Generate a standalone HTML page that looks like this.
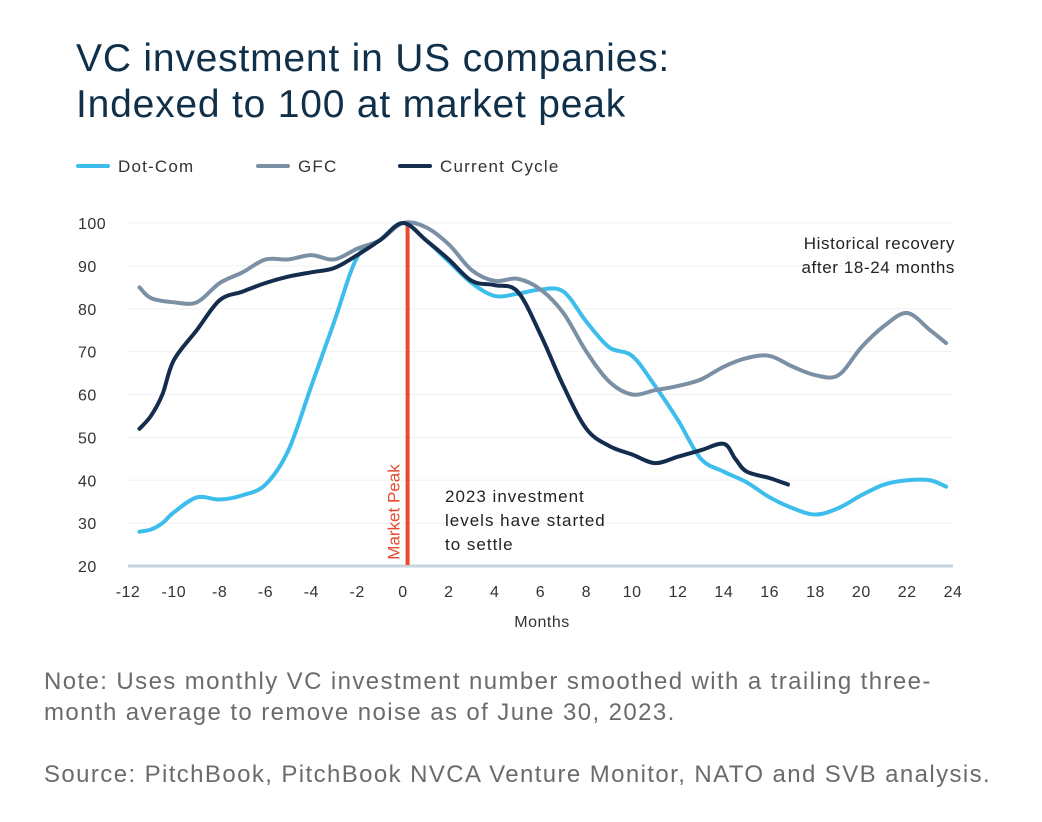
<!DOCTYPE html>
<html><head><meta charset="utf-8"><style>
body{margin:0;background:#fff;width:1042px;height:822px;overflow:hidden;font-family:"Liberation Sans",sans-serif}
.t{position:absolute;left:76px;top:36px;font-size:39px;line-height:46px;color:#10304a;letter-spacing:0.8px}
.n{position:absolute;left:44px;font-size:24px;color:#6b6b6b;line-height:31px;letter-spacing:1.4px}
</style></head><body>
<div class="t">VC investment in US companies:<br>Indexed to 100 at market peak</div>
<svg width="1042" height="822" style="position:absolute;left:0;top:0" id="c"></svg>
<div class="n" style="top:666px">Note: Uses monthly VC investment number smoothed with a trailing three-<br>month average to remove noise as of June 30, 2023.</div>
<div class="n" style="top:759px">Source: PitchBook, PitchBook NVCA Venture Monitor, NATO and SVB analysis.</div>
<script>
const xTicks=[-12,-10,-8,-6,-4,-2,0,2,4,6,8,10,12,14,16,18,20,22,24];
const yTicks=[20,30,40,50,60,70,80,90,100];
const marketPeak=0.2;
const dotX=[-11.5,-11,-10.5,-10,-9,-8,-7,-6,-5,-4,-3,-2,-1,0,1,2,3,4,5,6,7,8,9,10,11,12,13,14,15,16,17,18,19,20,21,22,23,23.7];
const dotY=[28,28.5,30,32.5,36,35.5,36.5,39,47,62,77,92,96,100,96,91,86,83,83.5,84.5,84,77,71,69,62,54,45,42,39.5,36,33.5,32,33.5,36.5,39,40,40,38.5];
const gfcX=[-11.5,-11,-10,-9,-8,-7,-6,-5,-4,-3,-2,-1,0,1,2,3,4,5,6,7,8,9,10,11,12,13,14,15,16,17,18,19,20,21,22,23,23.7];
const gfcY=[85,82.5,81.5,81.5,86,88.5,91.5,91.5,92.5,91.5,94,96,100,99,95,89,86.5,87,84.5,79,70,63,60,61,62,63.5,66.5,68.5,69,66.5,64.5,64.5,71,76,79,75,72];
const curX=[-11.5,-11,-10.5,-10,-9,-8,-7,-6,-5,-4,-3,-2,-1,0,1,2,3,4,5,6,7,8,9,10,11,12,13,14,14.5,15,16,16.8];
const curY=[52,55,60,68,75,82,84,86,87.5,88.5,89.5,92.5,96,100,96,91.5,86.5,85.5,84,74,62,52,48,46,44,45.5,47,48.5,45,42,40.5,39];
const NS="http://www.w3.org/2000/svg",svg=document.getElementById('c');
const X=v=>128+(v+12)*(825/36), Y=v=>566-(v-20)*(343/80);
function mk(t,a,txt){const e=document.createElementNS(NS,t);for(const k in a)e.setAttribute(k,a[k]);if(txt!=null)e.textContent=txt;svg.appendChild(e);return e;}
yTicks.forEach(v=>{
 const l=mk('line',{x1:128,x2:953,y1:Y(v),y2:Y(v),stroke:v==20?'#c5d3df':'#edf0f4','stroke-width':v==20?3:1});
 
 const t=mk('text',{x:78,y:Y(v)+6,'font-size':16,fill:'#333','letter-spacing':0.5},v);
 
});
xTicks.forEach(v=>{
 const t=mk('text',{x:X(v),y:597,'font-size':16,fill:'#333','text-anchor':'middle','letter-spacing':0.5},v);
 
});
const xt=mk('text',{x:542,y:627,'font-size':16,fill:'#333','text-anchor':'middle','letter-spacing':0.5},'Months');

function path(xs,ys){const p=xs.map((x,i)=>[X(x),Y(ys[i])]);let d='M'+p[0];
 for(let i=0;i<p.length-1;i++){const a=p[i-1]||p[i],b=p[i],c=p[i+1],e=p[i+2]||c;
 d+=`C${b[0]+(c[0]-a[0])/6},${b[1]+(c[1]-a[1])/6} ${c[0]-(e[0]-b[0])/6},${c[1]-(e[1]-b[1])/6} ${c[0]},${c[1]}`;}return d;}
const pk=mk('line',{x1:X(marketPeak),x2:X(marketPeak),y1:Y(100),y2:565,stroke:'#e8492f','stroke-width':4});

const s1=mk('path',{d:path(dotX,dotY),fill:'none',stroke:'#3dbdec','stroke-width':4,'stroke-linecap':'round'});

const s2=mk('path',{d:path(gfcX,gfcY),fill:'none',stroke:'#7b90a4','stroke-width':4,'stroke-linecap':'round'});

const s3=mk('path',{d:path(curX,curY),fill:'none',stroke:'#142d4f','stroke-width':4,'stroke-linecap':'round'});

const mp=mk('text',{x:0,y:0,'font-size':17,fill:'#e8492f','text-anchor':'middle',transform:`translate(${X(marketPeak)-8},512) rotate(-90)`},'Market Peak');

[['2023 investment',502],['levels have started',526],['to settle',550]].forEach(([s,y])=>{
 const t=mk('text',{x:445,y:y,'font-size':17,fill:'#222','letter-spacing':1},s);});
[['Historical recovery',249],['after 18-24 months',273]].forEach(([s,y])=>{
 const t=mk('text',{x:955,y:y,'font-size':17,fill:'#222','text-anchor':'end','letter-spacing':0.6},s);});
[['Dot-Com','#3dbdec',78],['GFC','#7b90a4',258],['Current Cycle','#142d4f',400]].forEach(([s,c,x])=>{
 const l=mk('line',{x1:x,x2:x+30,y1:166,y2:166,stroke:c,'stroke-width':4,'stroke-linecap':'round'});
 
 const t=mk('text',{x:x+40,y:172,'font-size':17,fill:'#333','letter-spacing':1.2},s);
 
});
</script>
</body></html>
